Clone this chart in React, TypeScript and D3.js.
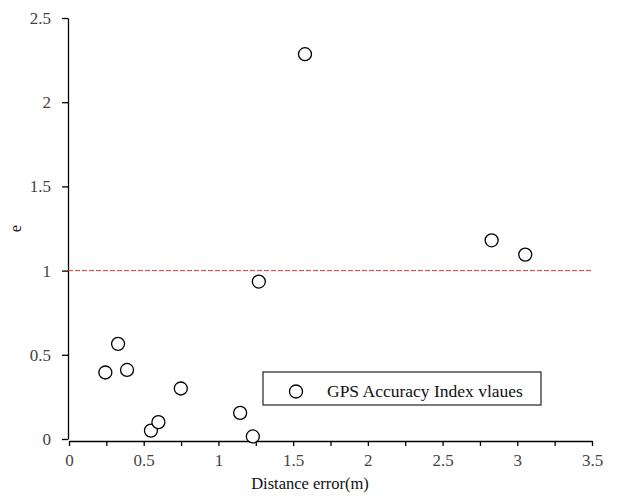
import React, { useRef, useEffect } from 'react';
import * as d3 from 'd3';

// distance error (m) and GPS accuracy index e
const distErr = [0.25, 0.335, 0.395, 0.555, 0.605, 0.755, 1.152, 1.237, 1.277, 1.586, 2.835, 3.06];
const eValues = [0.395, 0.565, 0.41, 0.05, 0.1, 0.3, 0.155, 0.015, 0.935, 2.285, 1.18, 1.095];
const xTickLabels = [0, 0.5, 1, 1.5, 2, 2.5, 3, 3.5];
const yTickLabels = [0, 0.5, 1, 1.5, 2, 2.5];
const threshold = 1;
const legendLabel = 'GPS Accuracy Index vlaues';

const App = () => {
  const svgRef = useRef(null);

  useEffect(() => {
    const svg = d3.select(svgRef.current);
    svg.selectAll('*').remove();

    const width = 619;
    const height = 496;
    const margin = { top: 18, right: 28, bottom: 57, left: 68 };
    const font = "'Liberation Serif', 'Times New Roman', serif";

    const x = d3.scaleLinear().domain([0, 3.5]).range([margin.left, width - margin.right]);
    const y = d3.scaleLinear().domain([0, 2.5]).range([height - margin.bottom, margin.top]);

    // x axis (a touch below zero, like the original)
    const xAxis = svg
      .append('g')
      .attr('transform', `translate(1, ${y(0) + 2})`)
      .call(
        d3
          .axisBottom(x)
          .tickValues(d3.range(0, 3.5001, 0.25))
          .tickSize(5)
          .tickSizeOuter(0)
          .tickFormat((d: any) => (xTickLabels.includes(+d) ? String(d) : ''))
      );
    xAxis.attr('font-family', null).attr('font-size', null);
    xAxis.select('.domain').attr('stroke', '#000').attr('stroke-width', 1.3);
    xAxis.selectAll('.tick line').attr('stroke', '#000').attr('stroke-width', 1.3);
    xAxis
      .selectAll('.tick text')
      .style('font-family', font)
      .style('font-size', '17px')
      .attr('fill', '#444')
      .attr('y', 10)
      .attr('dy', '0.9em');

    const yAxis = svg
      .append('g')
      .attr('transform', `translate(${margin.left}, 0)`)
      .call(
        d3
          .axisLeft(y)
          .tickValues(yTickLabels)
          .tickSize(6)
          .tickSizeOuter(0)
          .tickFormat((d: any) => String(d))
      );
    yAxis.attr('font-family', null).attr('font-size', null);
    yAxis.select('.domain').attr('stroke', '#000').attr('stroke-width', 1.3);
    yAxis.selectAll('.tick line').attr('stroke', '#000').attr('stroke-width', 1.3);
    yAxis
      .selectAll('.tick text')
      .style('font-family', font)
      .style('font-size', '17px')
      .attr('fill', '#444')
      .attr('x', -17);

    // threshold line at e = 1
    svg
      .append('line')
      .attr('x1', x(0))
      .attr('x2', x(3.5))
      .attr('y1', y(threshold))
      .attr('y2', y(threshold))
      .attr('stroke', '#f03030')
      .attr('stroke-width', 1)
      .attr('stroke-dasharray', '5,2');

    // points
    svg
      .selectAll('.pt')
      .data(distErr.map((d, i) => ({ x: d, y: eValues[i] })))
      .enter()
      .append('circle')
      .attr('class', 'pt')
      .attr('cx', d => x(d.x))
      .attr('cy', d => y(d.y))
      .attr('r', 6.5)
      .attr('fill', '#fff')
      .attr('stroke', '#000')
      .attr('stroke-width', 1.3);

    // axis titles
    svg
      .append('text')
      .attr('x', 310)
      .attr('y', 489)
      .attr('text-anchor', 'middle')
      .style('font-family', font)
      .style('font-size', '16.5px')
      .attr('fill', '#111')
      .text('Distance error(m)');

    svg
      .append('text')
      .attr('transform', `translate(21, ${y(1.25)}) rotate(-90)`)
      .attr('text-anchor', 'middle')
      .style('font-family', font)
      .style('font-size', '16.5px')
      .attr('fill', '#111')
      .text('e');

    // legend
    const lg = svg.append('g').attr('transform', 'translate(263, 372)');
    lg.append('rect')
      .attr('width', 278)
      .attr('height', 33)
      .attr('fill', '#fff')
      .attr('stroke', '#333')
      .attr('stroke-width', 1.3);
    lg.append('circle')
      .attr('cx', 33)
      .attr('cy', 19.5)
      .attr('r', 6.5)
      .attr('fill', '#fff')
      .attr('stroke', '#000')
      .attr('stroke-width', 1.3);
    lg.append('text')
      .attr('x', 64)
      .attr('y', 24.5)
      .style('font-family', font)
      .style('font-size', '17.5px')
      .attr('fill', '#111')
      .text(legendLabel);
  }, []);

  return (
    <svg
      ref={svgRef}
      width={619}
      height={496}
      style={{ position: 'absolute', left: 0, top: 0, background: '#fff' }}
    />
  );
};

export default App;
